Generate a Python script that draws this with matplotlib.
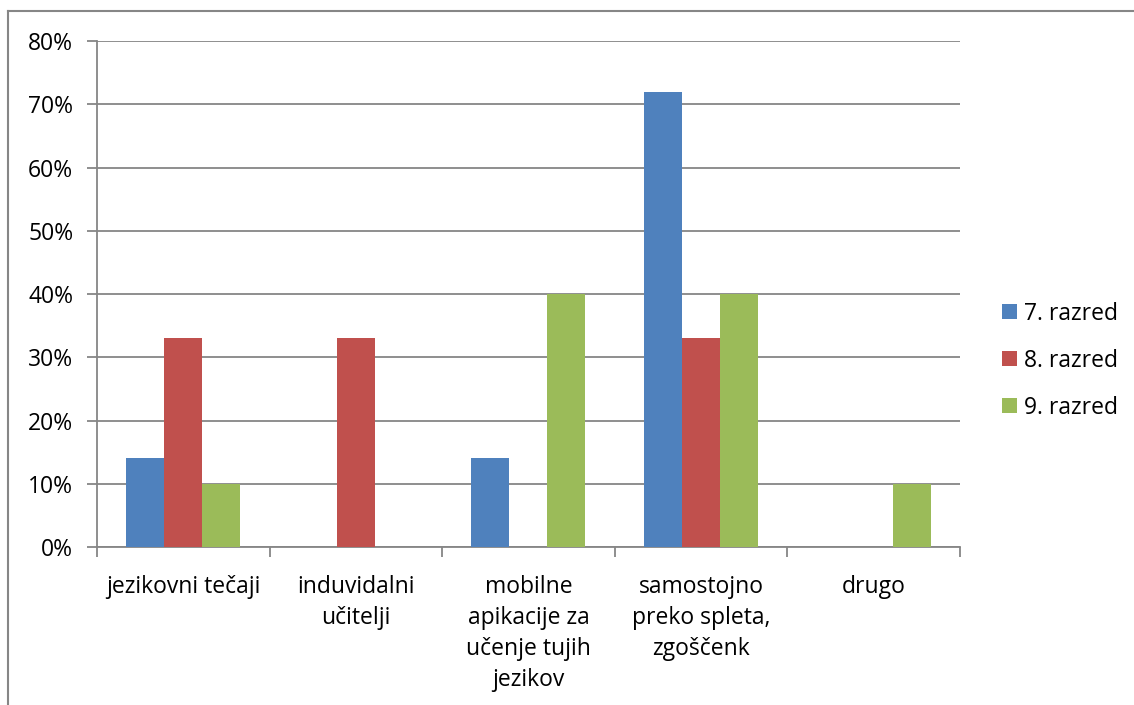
import matplotlib.pyplot as plt
import numpy as np
from matplotlib.lines import Line2D
from matplotlib.ticker import FuncFormatter

plt.rcParams['font.family'] = ['Open Sans', 'DejaVu Sans']

# =====podatki
categories = ['jezikovni tečaji', 'induvidalni\nučitelji', 'mobilne\napikacije za\nučenje tujih\njezikov',
              'samostojno\npreko spleta,\nzgoščenk', 'drugo']
series_names = ['7. razred', '8. razred', '9. razred']
razred7 = [14, 0, 14, 72, 0]
razred8 = [33, 33, 0, 33, 0]
razred9 = [10, 0, 40, 40, 10]
colors = ['#4F81BD', '#C0504D', '#9BBB59']

fig = plt.figure(figsize=(11.34, 7.05), dpi=100)
ax = fig.add_axes([0.0855, 0.2241, 0.761, 0.7177])

x = np.arange(len(categories))
w = 0.22
for i, (vals, name) in enumerate(zip([razred7, razred8, razred9], series_names)):
    ax.bar(x + (i - 1) * w, vals, width=w, color=colors[i], label=name, zorder=3)

ax.set_xlim(-0.5, len(categories) - 0.5)
ax.set_ylim(0, 80)
ax.set_yticks(range(0, 81, 10))
ax.yaxis.set_major_formatter(FuncFormatter(lambda v, p: '%d%%' % v))
ax.grid(axis='y', color='#868686', linewidth=1.3, zorder=0)

# ticks na mejah kategorij, oznake na sredini
ax.set_xticks(np.arange(-0.5, len(categories), 1))
ax.set_xticklabels([])
ax.set_xticks(x, minor=True)
ax.set_xticklabels(categories, minor=True, fontsize=16.5, linespacing=1.39, va='top')
ax.tick_params(axis='x', which='minor', length=0, pad=20)
ax.tick_params(axis='x', which='major', length=7, width=1.3, color='#868686')
ax.tick_params(axis='y', length=7, width=1.3, color='#868686', labelsize=16.5, pad=10)

for s in ['top', 'right']:
    ax.spines[s].set_visible(False)
for s in ['left', 'bottom']:
    ax.spines[s].set_color('#868686')
    ax.spines[s].set_linewidth(1.3)

ax.legend(loc='center left', bbox_to_anchor=(1.0, 0.368), frameon=False, fontsize=16.5,
          handlelength=0.65, handleheight=0.65, labelspacing=1.0, handletextpad=0.3,
          borderaxespad=1.45)

# okvir slike (samo levo in zgoraj)
fig.add_artist(Line2D([8 / 1134, 8 / 1134], [0, 1 - 11 / 705], color='#868686', linewidth=1.5))
fig.add_artist(Line2D([8 / 1134, 1], [1 - 11 / 705, 1 - 11 / 705], color='#868686', linewidth=1.5))

fig.savefig('out.png', dpi=100)
